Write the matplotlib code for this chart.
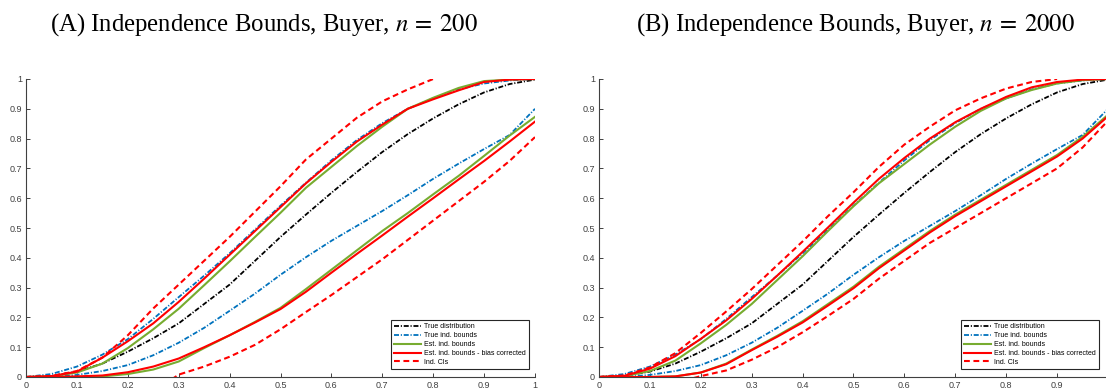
import numpy as np
import matplotlib
matplotlib.use("Agg")
import matplotlib.pyplot as plt

plt.rcParams['font.family'] = ['Liberation Sans', 'DejaVu Sans']
plt.rcParams['mathtext.fontset'] = 'stix'
plt.rcParams['lines.scale_dashes'] = False

nan = np.nan

# ---------------- data ----------------
x = [0.0, 0.05, 0.1, 0.15, 0.2, 0.25, 0.3, 0.35, 0.4, 0.45, 0.5,
     0.55, 0.6, 0.65, 0.7, 0.75, 0.8, 0.85, 0.9, 0.95, 1.0]

true_dist = [0, 0.004, 0.018, 0.045, 0.085, 0.13, 0.18, 0.245, 0.31, 0.39, 0.47,
             0.545, 0.618, 0.688, 0.755, 0.815, 0.868, 0.915, 0.955, 0.983, 0.998]
true_ub = [0, 0.01, 0.035, 0.075, 0.127, 0.195, 0.268, 0.34, 0.415, 0.495, 0.575,
           0.652, 0.727, 0.795, 0.852, 0.9, 0.935, 0.965, 0.985, 0.995, 1.0]
true_lb = [0, 0.0, 0.007, 0.02, 0.04, 0.073, 0.115, 0.165, 0.222, 0.28, 0.343,
           0.402, 0.457, 0.507, 0.557, 0.61, 0.665, 0.716, 0.765, 0.812, 0.90]

# Panel A, n = 200
a_est_ub = [0, 0.002, 0.015, 0.045, 0.097, 0.16, 0.229, 0.308, 0.388, 0.47, 0.551,
            0.635, 0.705, 0.775, 0.84, 0.9, 0.937, 0.97, 0.993, 0.998, 1.0]
a_est_lb = [0, 0, 0, 0.002, 0.01, 0.025, 0.052, 0.097, 0.14, 0.185, 0.232,
            0.295, 0.36, 0.425, 0.49, 0.55, 0.613, 0.675, 0.742, 0.81, 0.873]
a_bc_ub = [0, 0.003, 0.018, 0.065, 0.12, 0.18, 0.252, 0.33, 0.41, 0.49, 0.57,
           0.65, 0.722, 0.79, 0.847, 0.9, 0.932, 0.962, 0.99, 0.998, 1.0]
a_bc_lb = [0, 0, 0.002, 0.005, 0.016, 0.035, 0.062, 0.1, 0.14, 0.183, 0.228,
           0.286, 0.35, 0.413, 0.475, 0.538, 0.6, 0.663, 0.725, 0.79, 0.857]
a_ci_ub = [0, 0.003, 0.02, 0.065, 0.14, 0.23, 0.31, 0.39, 0.47, 0.555, 0.64,
           0.73, 0.80, 0.87, 0.925, 0.965, 1.0, nan, nan, nan, nan]
a_ci_lb = [nan, nan, nan, nan, nan, -0.05, 0.008, 0.035, 0.068, 0.108, 0.16,
           0.218, 0.275, 0.335, 0.395, 0.46, 0.525, 0.59, 0.655, 0.725, 0.805]

# Panel B, n = 2000
b_est_ub = [0, 0.003, 0.02, 0.055, 0.113, 0.175, 0.245, 0.325, 0.405, 0.49, 0.573,
            0.65, 0.715, 0.78, 0.84, 0.893, 0.935, 0.963, 0.985, 0.996, 1.0]
b_est_lb = [0, 0, 0, 0.002, 0.015, 0.045, 0.092, 0.138, 0.187, 0.245, 0.303,
            0.37, 0.43, 0.49, 0.545, 0.595, 0.645, 0.695, 0.745, 0.806, 0.88]
b_bc_ub = [0, 0.004, 0.028, 0.07, 0.128, 0.19, 0.262, 0.34, 0.42, 0.502, 0.585,
           0.665, 0.735, 0.8, 0.855, 0.9, 0.94, 0.972, 0.99, 0.998, 1.0]
b_bc_lb = [0, 0, 0, 0.002, 0.015, 0.043, 0.09, 0.135, 0.183, 0.24, 0.298,
           0.365, 0.425, 0.485, 0.54, 0.59, 0.64, 0.69, 0.74, 0.80, 0.875]
b_ci_ub = [0, 0.005, 0.032, 0.08, 0.148, 0.22, 0.295, 0.375, 0.455, 0.54, 0.62,
           0.705, 0.78, 0.84, 0.895, 0.935, 0.968, 0.99, 1.0, nan, nan]
b_ci_lb = [nan, nan, nan, -0.02, 0.003, 0.022, 0.058, 0.1, 0.15, 0.205, 0.262,
           0.33, 0.39, 0.45, 0.5, 0.55, 0.6, 0.65, 0.70, 0.77, 0.86]

titles = [r"(A) Independence Bounds, Buyer, $n\:=\:200$",
          r"(B) Independence Bounds, Buyer, $n\:=\:2000$"]
legend_labels = ["True distribution", "True ind. bounds", "Est. ind. bounds",
                 "Est. ind. bounds - bias corrected", "Ind. CIs"]
xticks = [0, 0.1, 0.2, 0.3, 0.4, 0.5, 0.6, 0.7, 0.8, 0.9, 1]
tick_labels = ["0", "0.1", "0.2", "0.3", "0.4", "0.5", "0.6", "0.7", "0.8", "0.9", "1"]

# ---------------- style ----------------
C_BLACK = "#000000"
C_BLUE = "#0072BD"
C_GREEN = "#77AC30"
C_RED = "#FF0000"
AX_COL = "#404040"
DASHDOT = (0, (3.6, 1.3, 0.8, 1.3))
DASHED = (0, (4.2, 2.6))

W, H = 1106, 389
fig = plt.figure(figsize=(W / 100, H / 100), dpi=100)

panels = [
    dict(left=26, title_x=264, est_ub=a_est_ub, est_lb=a_est_lb, bc_ub=a_bc_ub,
         bc_lb=a_bc_lb, ci_ub=a_ci_ub, ci_lb=a_ci_lb, leg_right=0.988),
    dict(left=599, title_x=855, est_ub=b_est_ub, est_lb=b_est_lb, bc_ub=b_bc_ub,
         bc_lb=b_bc_lb, ci_ub=b_ci_ub, ci_lb=b_ci_lb, leg_right=0.982),
]
ax_w, ax_h, ax_bottom = 509, 298, 389 - 377

for p, title in zip(panels, titles):
    ax = fig.add_axes([p['left'] / W, ax_bottom / H, ax_w / W, ax_h / H])
    h1, = ax.plot(x, true_dist, color=C_BLACK, lw=1.3, linestyle=DASHDOT)
    h2, = ax.plot(x, true_ub, color=C_BLUE, lw=1.3, linestyle=DASHDOT)
    ax.plot(x, true_lb, color=C_BLUE, lw=1.3, linestyle=DASHDOT)
    h3, = ax.plot(x, p['est_ub'], color=C_GREEN, lw=1.5)
    ax.plot(x, p['est_lb'], color=C_GREEN, lw=1.5)
    h4, = ax.plot(x, p['bc_ub'], color=C_RED, lw=1.5)
    ax.plot(x, p['bc_lb'], color=C_RED, lw=1.5)
    h5, = ax.plot(x, p['ci_ub'], color=C_RED, lw=1.5, linestyle=DASHED)
    ax.plot(x, p['ci_lb'], color=C_RED, lw=1.5, linestyle=DASHED)

    ax.set_xlim(0, 1)
    ax.set_ylim(0, 1)
    ax.set_xticks(xticks)
    ax.set_xticklabels(tick_labels)
    ax.set_yticks(xticks)
    ax.set_yticklabels(tick_labels)
    for s in ['top', 'right']:
        ax.spines[s].set_visible(False)
    for s in ['left', 'bottom']:
        ax.spines[s].set_color(AX_COL)
        ax.spines[s].set_linewidth(0.8)
    ax.tick_params(direction='in', length=3.2, width=0.7, colors=AX_COL,
                   labelsize=6.5, pad=3)

    leg = ax.legend([h1, h2, h3, h4, h5], legend_labels, loc='lower right',
                    bbox_to_anchor=(p['leg_right'], 0.027), borderaxespad=0,
                    fontsize=5, handlelength=3.9, handletextpad=0.4,
                    labelspacing=0.27, borderpad=0.45, fancybox=False,
                    framealpha=1, edgecolor='#262626')
    leg.get_frame().set_linewidth(0.8)

    fig.text(p['title_x'] / W, 1 - 30.5 / H, title, ha='center', va='baseline',
             fontsize=17.8, family=['Liberation Serif', 'DejaVu Serif'])

fig.savefig("out.png", dpi=100)
